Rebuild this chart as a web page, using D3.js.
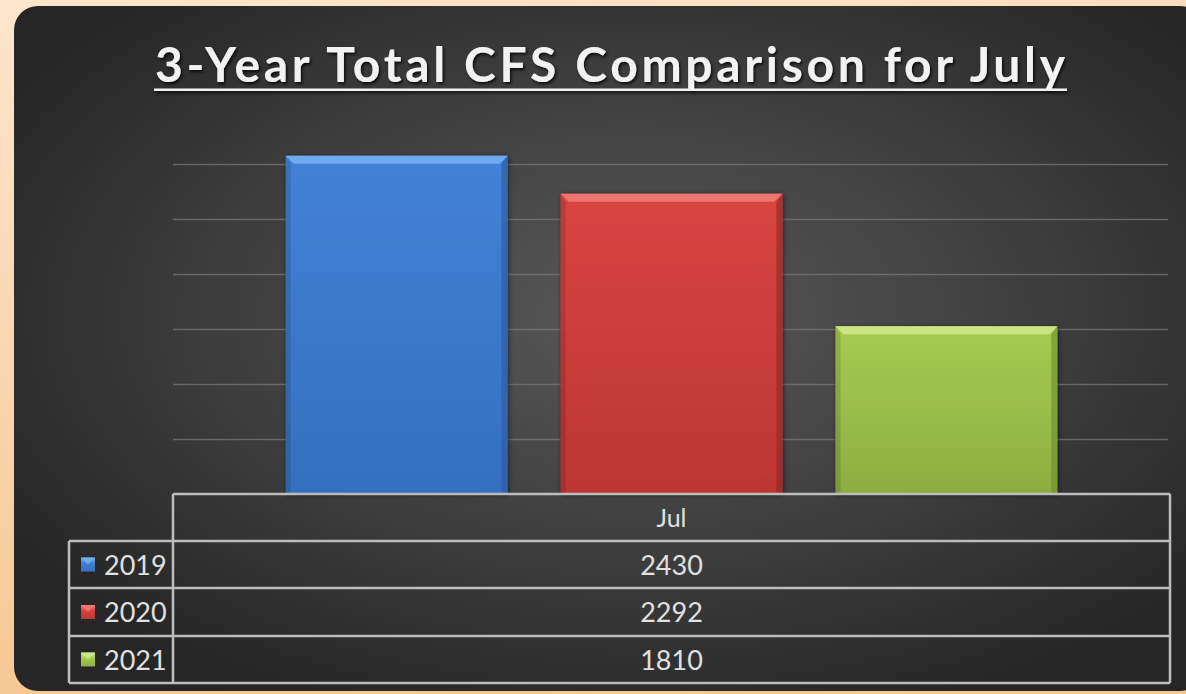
<!DOCTYPE html>
<html>
<head>
<meta charset="utf-8">
<script src="https://cdn.jsdelivr.net/npm/d3@7"></script>
<style>
  html, body { margin: 0; padding: 0; background: #fbe0c2; }
  svg { display: block; }
  text { font-family: Lato, "Open Sans", sans-serif; }
</style>
</head>
<body>
<svg id="chart" width="1186" height="694"></svg>
<script>
// Monthly totals of calls for service (CFS), July of each year
const categories = ["Jul"];
const seriesNames = ["2019", "2020", "2021"];
const values2019 = [2430];
const values2020 = [2292];
const values2021 = [1810];
const gridTicks = [1200, 1400, 1600, 1800, 2000, 2200, 2400];
const titleText = "3-Year Total CFS Comparison for July";

const seriesValues = [values2019, values2020, values2021];
const palette = {
  "2019": { main: "#4282d6", dark: "#3470bf", light: "#72aef2", edge: "#285a9c" },
  "2020": { main: "#d94541", dark: "#bc3633", light: "#f07a74", edge: "#8e2624" },
  "2021": { main: "#a6cc52", dark: "#8cae40", light: "#cfe88a", edge: "#6e8a2c" }
};

const W = 1186, H = 694;
const svg = d3.select("#chart");
const defs = svg.append("defs");

// page background
const pageGrad = defs.append("linearGradient").attr("id", "pageBg")
  .attr("x1", 0).attr("y1", 0).attr("x2", 0.25).attr("y2", 1);
pageGrad.append("stop").attr("offset", 0).attr("stop-color", "#fde6cd");
pageGrad.append("stop").attr("offset", 1).attr("stop-color", "#f6c690");
svg.append("rect").attr("width", W).attr("height", H).attr("fill", "url(#pageBg)");

// dark panel
const panelGrad = defs.append("radialGradient").attr("id", "panelBg")
  .attr("cx", 0.52).attr("cy", 0.45).attr("r", 0.62)
  .attr("gradientUnits", "objectBoundingBox");
panelGrad.append("stop").attr("offset", 0).attr("stop-color", "#585858");
panelGrad.append("stop").attr("offset", 0.55).attr("stop-color", "#3e3e3e");
panelGrad.append("stop").attr("offset", 1).attr("stop-color", "#262626");
svg.append("rect")
  .attr("x", 14).attr("y", 6).attr("width", 1190).attr("height", 685)
  .attr("rx", 24).attr("ry", 24)
  .attr("fill", "url(#panelBg)");

// shadows
const shadow = defs.append("filter").attr("id", "barShadow")
  .attr("x", "-10%").attr("y", "-10%").attr("width", "120%").attr("height", "120%");
shadow.append("feDropShadow").attr("dx", 1).attr("dy", 1).attr("stdDeviation", 2.5)
  .attr("flood-color", "#000").attr("flood-opacity", 0.55);
const textShadow = defs.append("filter").attr("id", "textShadow")
  .attr("x", "-5%").attr("y", "-20%").attr("width", "110%").attr("height", "150%");
textShadow.append("feDropShadow").attr("dx", 1.5).attr("dy", 2).attr("stdDeviation", 1.5)
  .attr("flood-color", "#000").attr("flood-opacity", 0.8);

// title
const titleG = svg.append("g").attr("filter", "url(#textShadow)");
titleG.append("text")
  .attr("x", 155).attr("y", 82)
  .attr("textLength", 910).attr("lengthAdjust", "spacing")
  .attr("font-size", 48).attr("font-weight", 700)
  .attr("fill", "#f2f2f2")
  .text(titleText);
titleG.append("rect")
  .attr("x", 154).attr("y", 88.5).attr("width", 913).attr("height", 2.5)
  .attr("fill", "#f2f2f2");

// plot layout
const plotLeft = 173, plotRight = 1170, baseY = 494;
const y = d3.scaleLinear().domain([1200, 2400]).range([baseY, 164]);
const x0 = d3.scaleBand().domain(categories).range([plotLeft, plotRight]).padding(0);
const x1 = d3.scaleBand().domain(seriesNames).range([0, x0.bandwidth()])
  .paddingInner(0.193).paddingOuter(0.41);

// gridlines
svg.append("g")
  .attr("transform", `translate(${plotLeft},0)`)
  .call(d3.axisLeft(y).tickValues(gridTicks.slice(1)).tickSize(-(1168 - plotLeft)).tickFormat(""))
  .call(g => g.select(".domain").remove())
  .call(g => g.selectAll("line").attr("stroke", "#777").attr("stroke-opacity", 0.75).attr("stroke-width", 1.5));

// gradients for bars
seriesNames.forEach(s => {
  const g = defs.append("linearGradient").attr("id", "bar" + s)
    .attr("x1", 0).attr("y1", 0).attr("x2", 0).attr("y2", 1);
  g.append("stop").attr("offset", 0).attr("stop-color", palette[s].main);
  g.append("stop").attr("offset", 1).attr("stop-color", palette[s].dark);
});

// bars with beveled edges
const bevel = 8;
const barData = [];
categories.forEach((c, ci) => {
  seriesNames.forEach((s, si) => {
    barData.push({ cat: c, series: s, value: seriesValues[si][ci] });
  });
});

const bars = svg.append("g").selectAll("g.bar").data(barData).join("g")
  .attr("class", "bar")
  .attr("transform", d => `translate(${x0(d.cat) + x1(d.series)},0)`);

bars.append("rect")
  .attr("x", 0).attr("y", d => y(d.value))
  .attr("width", x1.bandwidth()).attr("height", d => baseY - y(d.value))
  .attr("fill", d => `url(#bar${d.series})`)
  .attr("filter", "url(#barShadow)");

// top bevel
bars.append("path").attr("d", d => {
  const w = x1.bandwidth(), t = y(d.value);
  return `M0,${t} L${w},${t} L${w - bevel},${t + bevel} L${bevel},${t + bevel} Z`;
}).attr("fill", d => palette[d.series].light).attr("opacity", 0.9);

// right bevel
bars.append("path").attr("d", d => {
  const w = x1.bandwidth(), t = y(d.value);
  return `M${w},${t} L${w},${baseY} L${w - bevel + 2},${baseY - 2} L${w - bevel + 2},${t + bevel} Z`;
}).attr("fill", d => palette[d.series].edge).attr("opacity", 0.6);

// left bevel
bars.append("path").attr("d", d => {
  const t = y(d.value);
  return `M0,${t} L${bevel - 3},${t + bevel} L${bevel - 3},${baseY - 2} L0,${baseY} Z`;
}).attr("fill", "#000").attr("opacity", 0.12);

// data table
const tableLeft = 69;
const rowTops = [494, 541, 588, 636, 683];
const lineColor = "#bdbdbd";
const table = svg.append("g");

// horizontal rules
table.append("line").attr("x1", plotLeft).attr("x2", plotRight).attr("y1", rowTops[0]).attr("y2", rowTops[0])
  .attr("stroke", lineColor).attr("stroke-width", 2.5);
rowTops.slice(1).forEach(yy => {
  table.append("line").attr("x1", tableLeft).attr("x2", plotRight).attr("y1", yy).attr("y2", yy)
    .attr("stroke", lineColor).attr("stroke-width", 2.5);
});
// vertical rules
table.append("line").attr("x1", plotLeft).attr("x2", plotLeft).attr("y1", rowTops[0]).attr("y2", rowTops[4])
  .attr("stroke", lineColor).attr("stroke-width", 2.5);
table.append("line").attr("x1", plotRight).attr("x2", plotRight).attr("y1", rowTops[0]).attr("y2", rowTops[4])
  .attr("stroke", lineColor).attr("stroke-width", 2.5);
table.append("line").attr("x1", tableLeft).attr("x2", tableLeft).attr("y1", rowTops[1]).attr("y2", rowTops[4])
  .attr("stroke", lineColor).attr("stroke-width", 2.5);

const textColor = "#e0e0e0";
// header
categories.forEach(c => {
  table.append("text")
    .attr("x", x0(c) + x0.bandwidth() / 2).attr("y", (rowTops[0] + rowTops[1]) / 2 + 9)
    .attr("text-anchor", "middle").attr("font-size", 25).attr("fill", textColor)
    .text(c);
});

// legend keys
seriesNames.forEach(s => {
  const g = defs.append("linearGradient").attr("id", "key" + s)
    .attr("x1", 0).attr("y1", 0).attr("x2", 0).attr("y2", 1);
  g.append("stop").attr("offset", 0).attr("stop-color", palette[s].light);
  g.append("stop").attr("offset", 0.4).attr("stop-color", palette[s].main);
  g.append("stop").attr("offset", 1).attr("stop-color", palette[s].dark);
});

seriesNames.forEach((s, si) => {
  const top = rowTops[si + 1], bot = rowTops[si + 2], mid = (top + bot) / 2;
  table.append("rect")
    .attr("x", 81).attr("y", mid - 7).attr("width", 14).attr("height", 14)
    .attr("fill", `url(#key${s})`);
  table.append("path")
    .attr("d", `M81,${mid - 7} L95,${mid - 7} L88,${mid} Z`)
    .attr("fill", palette[s].light).attr("opacity", 0.8);
  table.append("text")
    .attr("x", 104).attr("y", mid + 10)
    .attr("font-size", 27).attr("fill", textColor)
    .text(s);
  categories.forEach((c, ci) => {
    table.append("text")
      .attr("x", x0(c) + x0.bandwidth() / 2).attr("y", mid + 10)
      .attr("text-anchor", "middle").attr("font-size", 27).attr("fill", textColor)
      .text(seriesValues[si][ci]);
  });
});
</script>
</body>
</html>
